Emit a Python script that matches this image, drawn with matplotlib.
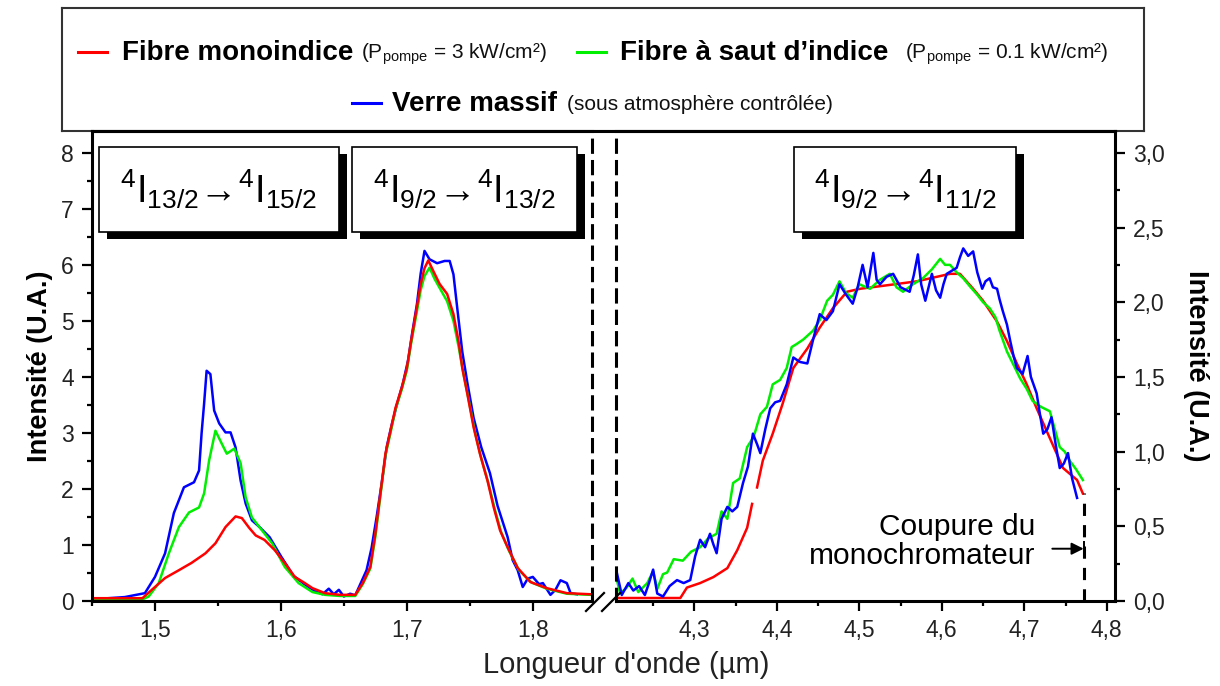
import numpy as np
import matplotlib
matplotlib.use('Agg')
import matplotlib.pyplot as plt
from matplotlib.patches import Rectangle
from matplotlib.lines import Line2D
from matplotlib.ticker import MultipleLocator, FuncFormatter

plt.rcParams['font.family'] = ['Liberation Sans', 'DejaVu Sans']
plt.rcParams['mathtext.fontset'] = 'custom'
plt.rcParams['mathtext.rm'] = 'Liberation Sans'
plt.rcParams['mathtext.it'] = 'Liberation Sans:italic'
plt.rcParams['mathtext.bf'] = 'Liberation Sans:bold'

# ---- data ----
# left part (1.45 - 1.85 um), left axis
red_l_x = [1.450, 1.490, 1.500, 1.508, 1.519, 1.529, 1.540, 1.548, 1.556, 1.564, 1.569, 1.575,
           1.580, 1.587, 1.595, 1.603, 1.611, 1.619, 1.625, 1.635, 1.647, 1.659, 1.665, 1.671,
           1.675, 1.679, 1.683, 1.687, 1.691, 1.696, 1.700, 1.703, 1.707, 1.711, 1.714, 1.717,
           1.721, 1.726, 1.732, 1.737, 1.741, 1.744, 1.748, 1.753, 1.758, 1.764, 1.769, 1.774,
           1.780, 1.788, 1.798, 1.811, 1.827, 1.846]
red_l_y = [0.05, 0.05, 0.25, 0.41, 0.55, 0.68, 0.85, 1.03, 1.32, 1.51, 1.48, 1.30,
           1.17, 1.09, 0.91, 0.68, 0.43, 0.32, 0.23, 0.14, 0.11, 0.11, 0.32, 0.61,
           1.21, 1.92, 2.63, 3.04, 3.45, 3.81, 4.16, 4.59, 5.12, 5.66, 5.94, 6.08,
           5.89, 5.66, 5.48, 5.12, 4.64, 4.16, 3.70, 3.10, 2.63, 2.15, 1.67, 1.26,
           0.96, 0.59, 0.34, 0.23, 0.14, 0.12]

green_l_x = [1.450, 1.490, 1.495, 1.503, 1.511, 1.519, 1.527, 1.535, 1.539, 1.543, 1.548, 1.553,
             1.557, 1.563, 1.568, 1.572, 1.577, 1.585, 1.593, 1.603, 1.614, 1.625, 1.635, 1.647,
             1.659, 1.665, 1.671, 1.675, 1.679, 1.683, 1.687, 1.691, 1.696, 1.700, 1.703, 1.707,
             1.711, 1.714, 1.718, 1.722, 1.727, 1.732, 1.737, 1.741, 1.745, 1.749, 1.754, 1.759,
             1.765, 1.770, 1.775, 1.781, 1.789, 1.799, 1.811, 1.827, 1.846]
green_l_y = [0.03, 0.03, 0.08, 0.32, 0.85, 1.32, 1.58, 1.67, 1.92, 2.51, 3.04, 2.81,
             2.63, 2.72, 2.46, 1.85, 1.49, 1.26, 1.03, 0.61, 0.32, 0.16, 0.11, 0.09,
             0.09, 0.30, 0.58, 1.15, 1.88, 2.60, 3.00, 3.42, 3.78, 4.12, 4.55, 5.05,
             5.55, 5.80, 5.95, 5.75, 5.55, 5.35, 5.00, 4.55, 4.05, 3.60, 3.02, 2.55,
             2.08, 1.62, 1.22, 0.90, 0.55, 0.33, 0.22, 0.13, 0.11]

blue_l_x = [1.450, 1.476, 1.492, 1.500, 1.508, 1.515, 1.523, 1.531, 1.535, 1.537, 1.539, 1.541,
            1.544, 1.547, 1.551, 1.556, 1.560, 1.564, 1.568, 1.572, 1.577, 1.583, 1.591, 1.600,
            1.610, 1.620, 1.627, 1.633, 1.638, 1.642, 1.646, 1.650, 1.655, 1.659, 1.663, 1.668,
            1.672, 1.676, 1.680, 1.684, 1.688, 1.692, 1.697, 1.701, 1.704, 1.708, 1.711, 1.714,
            1.718, 1.724, 1.730, 1.734, 1.737, 1.740, 1.744, 1.748, 1.753, 1.759, 1.766, 1.772,
            1.777, 1.780, 1.784, 1.788, 1.792, 1.796, 1.800, 1.805, 1.808, 1.814, 1.818, 1.822,
            1.827, 1.830, 1.835]
blue_l_y = [0.03, 0.07, 0.14, 0.43, 0.85, 1.57, 2.03, 2.12, 2.33, 2.99, 3.52, 4.11,
            4.05, 3.40, 3.17, 3.01, 3.01, 2.74, 2.15, 1.74, 1.44, 1.32, 1.14, 0.80,
            0.45, 0.28, 0.18, 0.12, 0.22, 0.12, 0.20, 0.08, 0.13, 0.10, 0.30, 0.55,
            0.95, 1.50, 2.10, 2.75, 3.15, 3.50, 3.90, 4.30, 4.75, 5.30, 5.85, 6.25,
            6.10, 6.03, 6.07, 6.07, 5.83, 5.23, 4.45, 3.90, 3.27, 2.75, 2.28, 1.70,
            1.35, 1.14, 0.73, 0.55, 0.25, 0.40, 0.43, 0.30, 0.32, 0.11, 0.20, 0.37,
            0.32, 0.14, 0.12]

# right part (4.2 - 4.8 um), right axis
red_r_x = [4.204, 4.283, 4.291, 4.307, 4.323, 4.340, 4.352, 4.364, 4.370, 4.372, 4.376, 4.383,
           4.395, 4.407, 4.420, 4.437, 4.452, 4.468, 4.485, 4.501, 4.529, 4.570, 4.610, 4.622,
           4.638, 4.650, 4.667, 4.679, 4.691, 4.703, 4.715, 4.731, 4.747, 4.764, 4.771]
red_r_y = [0.02, 0.02, 0.09, 0.12, 0.16, 0.22, 0.34, 0.49, 0.65, np.nan, 0.76, 0.94,
           1.12, 1.32, 1.56, 1.69, 1.83, 1.96, 2.07, 2.09, 2.11, 2.14, 2.19, 2.19,
           2.09, 2.01, 1.87, 1.74, 1.59, 1.45, 1.29, 1.09, 0.89, 0.81, 0.72]

green_r_x = [4.204, 4.210, 4.218, 4.225, 4.232, 4.243, 4.250, 4.255, 4.262, 4.267, 4.275, 4.286,
             4.296, 4.307, 4.317, 4.327, 4.333, 4.340, 4.347, 4.355, 4.364, 4.372, 4.380, 4.388,
             4.395, 4.404, 4.412, 4.418, 4.424, 4.432, 4.444, 4.452, 4.461, 4.468, 4.476, 4.484,
             4.492, 4.500, 4.513, 4.525, 4.537, 4.545, 4.553, 4.565, 4.577, 4.588, 4.598, 4.604,
             4.610, 4.618, 4.626, 4.635, 4.643, 4.650, 4.658, 4.665, 4.670, 4.679, 4.687, 4.695,
             4.703, 4.710, 4.720, 4.731, 4.737, 4.743, 4.749, 4.755, 4.763, 4.771]
green_r_y = [0.19, 0.05, 0.09, 0.15, 0.06, 0.12, 0.20, 0.08, 0.18, 0.19, 0.28, 0.27,
             0.33, 0.36, 0.42, 0.45, 0.60, 0.55, 0.79, 0.82, 1.03, 1.10, 1.25, 1.30,
             1.45, 1.48, 1.56, 1.70, 1.72, 1.75, 1.81, 1.88, 2.01, 2.05, 2.14, 2.06,
             2.03, 2.12, 2.09, 2.15, 2.19, 2.10, 2.07, 2.12, 2.16, 2.22, 2.29, 2.25,
             2.25, 2.20, 2.16, 2.10, 2.05, 2.00, 1.96, 1.90, 1.81, 1.67, 1.58, 1.49,
             1.42, 1.34, 1.30, 1.27, 1.15, 1.03, 1.00, 0.94, 0.88, 0.81]

blue_r_x = [4.206, 4.212, 4.220, 4.226, 4.233, 4.240, 4.245, 4.250, 4.255, 4.262, 4.270, 4.279,
            4.287, 4.295, 4.301, 4.307, 4.313, 4.319, 4.323, 4.327, 4.333, 4.340, 4.346, 4.352,
            4.359, 4.365, 4.371, 4.376, 4.380, 4.386, 4.392, 4.398, 4.404, 4.412, 4.420, 4.428,
            4.437, 4.444, 4.452, 4.460, 4.468, 4.476, 4.484, 4.492, 4.498, 4.504, 4.510, 4.517,
            4.521, 4.525, 4.533, 4.541, 4.550, 4.561, 4.566, 4.571, 4.575, 4.580, 4.584, 4.588,
            4.593, 4.598, 4.602, 4.606, 4.612, 4.618, 4.622, 4.626, 4.632, 4.638, 4.643, 4.649,
            4.653, 4.658, 4.662, 4.667, 4.670, 4.674, 4.679, 4.683, 4.687, 4.691, 4.698, 4.701,
            4.704, 4.708, 4.715, 4.719, 4.723, 4.728, 4.733, 4.738, 4.743, 4.748, 4.753, 4.758,
            4.764]
blue_r_y = [0.19, 0.04, 0.12, 0.07, 0.10, 0.04, 0.12, 0.21, 0.05, 0.03, 0.10, 0.14,
            0.12, 0.14, 0.30, 0.41, 0.36, 0.45, 0.38, 0.32, 0.55, 0.63, 0.60, 0.63,
            0.79, 0.90, 1.12, 1.05, 0.99, 1.15, 1.29, 1.33, 1.34, 1.45, 1.63, 1.60,
            1.59, 1.75, 1.92, 1.88, 1.94, 2.12, 2.05, 1.99, 2.10, 2.25, 2.10, 2.33,
            2.15, 2.12, 2.17, 2.19, 2.10, 2.07, 2.18, 2.32, 2.12, 2.01, 2.10, 2.19,
            2.08, 2.03, 2.12, 2.19, 2.21, 2.23, 2.30, 2.36, 2.31, 2.34, 2.20, 2.09,
            2.14, 2.16, 2.10, 2.09, 2.02, 1.94, 1.85, 1.74, 1.64, 1.56, 1.52, 1.58,
            1.64, 1.50, 1.39, 1.25, 1.12, 1.15, 1.23, 1.05, 0.89, 0.92, 0.99, 0.82,
            0.69]

x_cut = 4.772      # monochromator cut-off
y_cut = 0.72
y_arrow = 0.35

labels = ['Fibre monoindice', 'Fibre à saut d\u2019indice', 'Verre massif']
sublabels = ['(P$_{\\mathregular{pompe}}$ = 3 kW/cm\u00b2)',
             '(P$_{\\mathregular{pompe}}$ = 0.1 kW/cm\u00b2)',
             '(sous atmosphère contrôlée)']
transitions = [r'$\mathregular{{}^{4}I_{13/2}\!\rightarrow\!{}^{4}I_{15/2}}$',
               r'$\mathregular{{}^{4}I_{9/2}\!\rightarrow\!{}^{4}I_{13/2}}$',
               r'$\mathregular{{}^{4}I_{9/2}\!\rightarrow\!{}^{4}I_{11/2}}$']

cr, cg, cb = '#ff0000', '#00ee00', '#0000ff'

W, H = 1220, 686
fig = plt.figure(figsize=(W / 100, H / 100), dpi=100)


def px(x0, y0, x1, y1):
    # pixel box (top-left origin) -> figure rect
    return [x0 / W, 1 - y1 / H, (x1 - x0) / W, (y1 - y0) / H]


comma = FuncFormatter(lambda v, p: ('%.1f' % v).replace('.', ','))
comma0 = FuncFormatter(lambda v, p: '%d' % round(v))

# legend box (drawn first, behind the axes)
lax = fig.add_axes(px(62, 8, 1144, 131))
lax.set_xlim(62, 1144)
lax.set_ylim(131, 8)
lax.set_xticks([])
lax.set_yticks([])
for s in lax.spines.values():
    s.set_linewidth(1.5)
    s.set_color('#333333')
entries = [(cr, 78, 52, 122, 361), (cg, 577, 52, 620, 905), (cb, 352, 103, 392, 567)]
for (c, lx, ly, tx, sx), lab, sub in zip(entries, labels, sublabels):
    lax.plot([lx, lx + 29], [ly, ly], color=c, lw=2.2)
    lax.text(tx, ly + 1, lab, fontsize=20, fontweight='bold', va='center', ha='left')
    lax.text(sx, ly + 2, sub, fontsize=15, va='center', ha='left', color='#111111')

ax1 = fig.add_axes(px(92, 131, 592, 601))
ax2 = fig.add_axes(px(616, 131, 1115, 601))
for ax in (ax1, ax2):
    ax.patch.set_facecolor('none')

lw = 1.8
ax1.plot(blue_l_x, blue_l_y, color=cb, lw=lw)
ax1.plot(green_l_x, green_l_y, color=cg, lw=lw)
ax1.plot(red_l_x, red_l_y, color=cr, lw=lw)
ax2.plot(red_r_x, red_r_y, color=cr, lw=lw)
ax2.plot(green_r_x, green_r_y, color=cg, lw=lw)
ax2.plot(blue_r_x, blue_r_y, color=cb, lw=lw)

ax1.set_xlim(1.45, 1.847)
ax1.set_ylim(0, 8.39)
ax2.set_xlim(4.205, 4.81)
ax2.set_ylim(0, 3.146)

for ax in (ax1, ax2):
    for s in ax.spines.values():
        s.set_linewidth(2.2)
    ax.tick_params(which='major', length=7, width=1.6, labelsize=16.5, labelcolor='#222222', pad=6)
    ax.tick_params(which='minor', length=3.5, width=1.6)
    ax.xaxis.set_major_locator(MultipleLocator(0.1))
    ax.xaxis.set_minor_locator(MultipleLocator(0.05))
    ax.xaxis.set_major_formatter(comma)

ax1.spines['right'].set_linestyle((0, (4, 3)))
ax2.spines['left'].set_linestyle((0, (4, 3)))
ax1.yaxis.set_major_locator(MultipleLocator(1))
ax1.yaxis.set_minor_locator(MultipleLocator(0.5))
ax1.yaxis.set_major_formatter(comma0)
ax1.tick_params(axis='y', which='both', right=False)
ax2.yaxis.tick_right()
ax2.yaxis.set_major_locator(MultipleLocator(0.5))
ax2.yaxis.set_minor_locator(MultipleLocator(0.25))
ax2.yaxis.set_major_formatter(comma)
ax2.tick_params(axis='y', which='both', left=False)

ax1.set_ylabel('Intensité (U.A.)', fontsize=19.5, fontweight='bold', labelpad=6)
ax2.yaxis.set_label_position('right')
ax2.set_ylabel('Intensité (U.A.)', fontsize=19.5, fontweight='bold', rotation=-90, labelpad=32)
fig.text(626 / W, 1 - 665 / H, "Longueur d'onde (µm)", fontsize=21, ha='center', va='center',
         color='#222222')

# continuous top frame line across the break
fig.add_artist(Line2D([92 / W, 1115 / W], [1 - 131 / H, 1 - 131 / H], color='black', lw=2.2,
                      zorder=4))

# axis break marks
for xa, xb in [(586, 604), (602, 620)]:
    fig.add_artist(Line2D([xa / W, xb / W], [1 - 611 / H, 1 - 593 / H], color='black', lw=1.6))

# monochromator cut-off
ax2.vlines(x_cut, 0, y_cut, color='black', lw=2.2, linestyles=(0, (4, 3)))
ax2.annotate('', xy=(x_cut, y_arrow), xytext=(x_cut - 0.038, y_arrow),
             arrowprops=dict(arrowstyle='-|>', color='black', lw=1.4, mutation_scale=18,
                             shrinkA=0, shrinkB=0))
ax2.vlines(x_cut, y_arrow - 0.05, y_arrow + 0.05, color='black', lw=1.4)
ax2.text(4.713, 0.40, 'Coupure du\nmonochromateur', fontsize=21.5, ha='right', va='center',
         multialignment='right', linespacing=1.05)

# transition boxes with drop shadow
boxes = [(99, 147, 339, 232), (352, 147, 577, 232), (794, 147, 1016, 232)]
for (x0, y0, x1, y1), t in zip(boxes, transitions):
    fig.add_artist(Rectangle(((x0 + 8) / W, 1 - (y1 + 7) / H), (x1 - x0) / W, (y1 - y0) / H,
                             transform=fig.transFigure, facecolor='black', edgecolor='none',
                             zorder=5))
    fig.add_artist(Rectangle((x0 / W, 1 - y1 / H), (x1 - x0) / W, (y1 - y0) / H,
                             transform=fig.transFigure, facecolor='white', edgecolor='black',
                             lw=1.2, zorder=6))
    fig.text((x0 + x1) / 2 / W, 1 - (y0 + y1) / 2 / H, t, fontsize=27, ha='center', va='center',
             zorder=7)

fig.savefig('out.png', dpi=100)
